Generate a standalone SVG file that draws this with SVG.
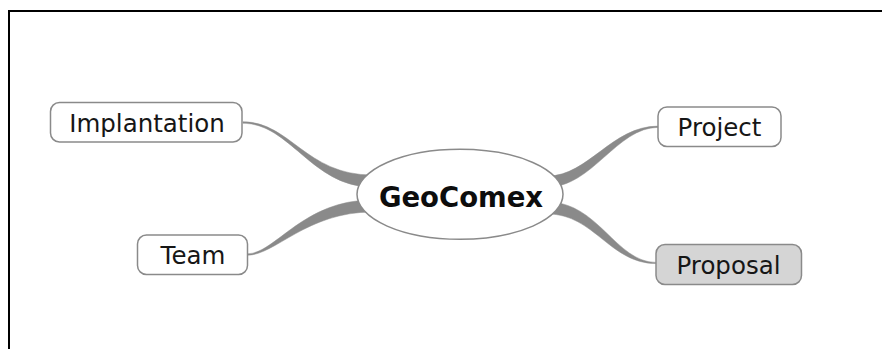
<svg xmlns="http://www.w3.org/2000/svg" width="882" height="349" viewBox="0 0 882 349">
  <style>
    .topic { fill: #ffffff; stroke: #8a8a8a; stroke-width: 1.5; }
    .topic.selected { fill: #d5d5d5; }
    .label { font-family: "DejaVu Sans", "Liberation Sans", sans-serif; font-size: 24.5px; fill: #161616; text-anchor: middle; }
    .central { fill: #ffffff; stroke: #8a8a8a; stroke-width: 1.5; }
    .central-label { font-family: "DejaVu Sans", "Liberation Sans", sans-serif; font-size: 27.5px; font-weight: bold; fill: #0d0d0d; text-anchor: middle; }
    .branch { fill: #8a8a8a; stroke: #8e8e8e; stroke-width: 0.5; }
  </style>

  <!-- canvas frame -->
  <rect x="9" y="11" width="900" height="400" fill="#ffffff" stroke="#000000" stroke-width="2"/>

  <!-- tapered branches from the central topic -->
  <g id="connectors">
    <path class="branch" d="M243,121.8 C290,121.8 306,175 372,175 L372,187 C312,187 290,123.2 243,123.2 Z"/>
    <path class="branch" d="M247.5,253.8 C275,253.8 303,200 372,200 L372,212 C307,212 275,255.2 247.5,255.2 Z"/>
    <path class="branch" d="M548,176 C588,176 612,126.1 658,126.1 L658,127.4 C617,127.4 592,187 548,187 Z"/>
    <path class="branch" d="M548,202 C598,202 616,262.4 656,262.4 L656,263.6 C610,263.6 594,214 548,214 Z"/>
  </g>

  <g id="node-geocomex">
    <ellipse class="central" cx="460" cy="194.3" rx="103" ry="45"/>
    <text class="central-label" x="461" y="206.5">GeoComex</text>
  </g>

  <g id="node-implantation">
    <rect class="topic" x="50.5" y="102.5" width="191.5" height="39.5" rx="9"/>
    <text class="label" x="147" y="131.5">Implantation</text>
  </g>

  <g id="node-team">
    <rect class="topic" x="137.5" y="235" width="110" height="39.5" rx="9"/>
    <text class="label" x="193" y="264">Team</text>
  </g>

  <g id="node-project">
    <rect class="topic" x="658" y="107" width="123" height="39.5" rx="9"/>
    <text class="label" x="719.5" y="136">Project</text>
  </g>

  <g id="node-proposal">
    <rect class="topic selected" x="656" y="244.5" width="145.5" height="40" rx="9"/>
    <text class="label" x="728.5" y="274">Proposal</text>
  </g>
</svg>
